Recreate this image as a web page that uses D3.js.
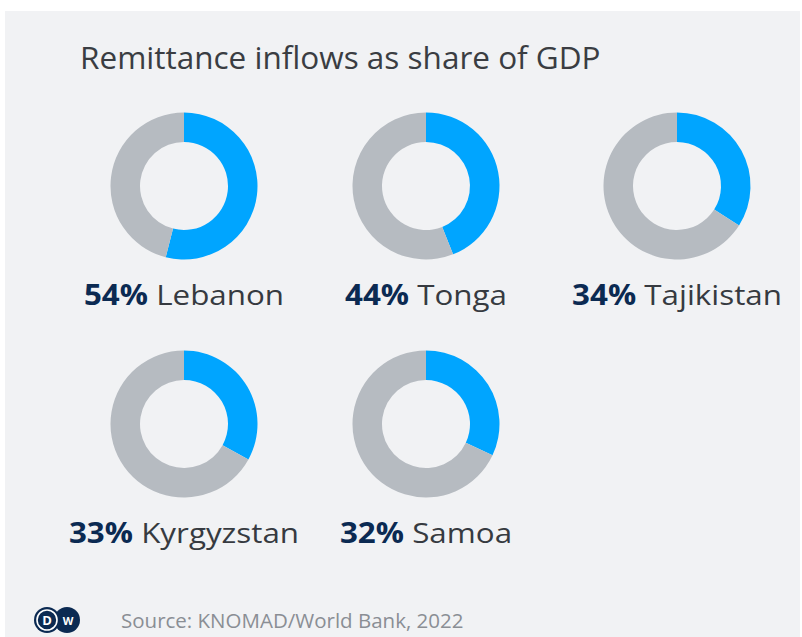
<!DOCTYPE html>
<html>
<head>
<meta charset="utf-8">
<script src="https://cdn.jsdelivr.net/npm/d3@7"></script>
<style>
  html, body { margin: 0; padding: 0; background: #ffffff; }
  svg { display: block; }
  text { font-family: "Open Sans", "Noto Sans", sans-serif; }
</style>
</head>
<body>
<svg id="chart" width="802" height="637"></svg>
<script>
// Remittance inflows as share of GDP, 2022
const countries = ["Lebanon", "Tonga", "Tajikistan", "Kyrgyzstan", "Samoa"];
const shares = [54, 44, 34, 33, 32];

const title = "Remittance inflows as share of GDP";
const source = "Source: KNOMAD/World Bank, 2022";

const W = 802, H = 637;
const svg = d3.select("#chart");

// panel background
svg.append("rect")
  .attr("x", 5).attr("y", 11)
  .attr("width", W - 7).attr("height", H - 11)
  .attr("fill", "#f1f2f4");

svg.append("text")
  .attr("x", 80).attr("y", 69)
  .attr("font-size", 31.5)
  .attr("fill", "#3a3d42")
  .text(title);

// grid of donuts: 3 columns, 2 rows
const col = d3.scaleOrdinal().domain([0, 1, 2]).range([184, 426, 677]);
const row = d3.scaleOrdinal().domain([0, 1]).range([186, 424]);

const pie = d3.pie().sort(null).value(d => d);
const arc = d3.arc().innerRadius(44).outerRadius(73.5);
const colors = ["#00a5ff", "#b6bbc1"];

const cells = svg.selectAll("g.cell")
  .data(countries.map((c, i) => ({ name: c, value: shares[i], i })))
  .join("g")
  .attr("class", "cell")
  .attr("transform", d => `translate(${col(d.i % 3)},${row(Math.floor(d.i / 3))})`);

cells.selectAll("path")
  .data(d => pie([d.value, 100 - d.value]))
  .join("path")
  .attr("d", arc)
  .attr("fill", (d, j) => colors[j]);

const label = cells.append("text")
  .attr("transform", "translate(0,119) scale(1.12,1)")
  .attr("text-anchor", "middle")
  .attr("font-size", 28);
label.append("tspan")
  .attr("font-weight", 700)
  .attr("fill", "#0b2a52")
  .text(d => d.value + "%");
label.append("tspan")
  .attr("fill", "#363a40")
  .text(d => " " + d.name);

// DW logo
const logo = svg.append("g").attr("transform", "translate(57,620)");
logo.append("circle").attr("cx", 10).attr("r", 13).attr("fill", "#0b2a52");
logo.append("circle").attr("cx", -10).attr("r", 13).attr("fill", "#0b2a52");
logo.append("circle").attr("cx", -10).attr("r", 10).attr("fill", "none").attr("stroke", "#fff").attr("stroke-width", 1.6);
logo.append("text").attr("x", -10).attr("y", 5).attr("text-anchor", "middle")
  .attr("font-size", 13).attr("font-weight", 700).attr("fill", "#fff").text("D");
logo.append("text").attr("x", 11).attr("y", 4.5).attr("text-anchor", "middle")
  .attr("font-size", 11).attr("font-weight", 700).attr("fill", "#fff").text("W");

svg.append("text")
  .attr("x", 121).attr("y", 628)
  .attr("font-size", 20.5)
  .attr("fill", "#8a8e94")
  .text(source);
</script>
</body>
</html>
